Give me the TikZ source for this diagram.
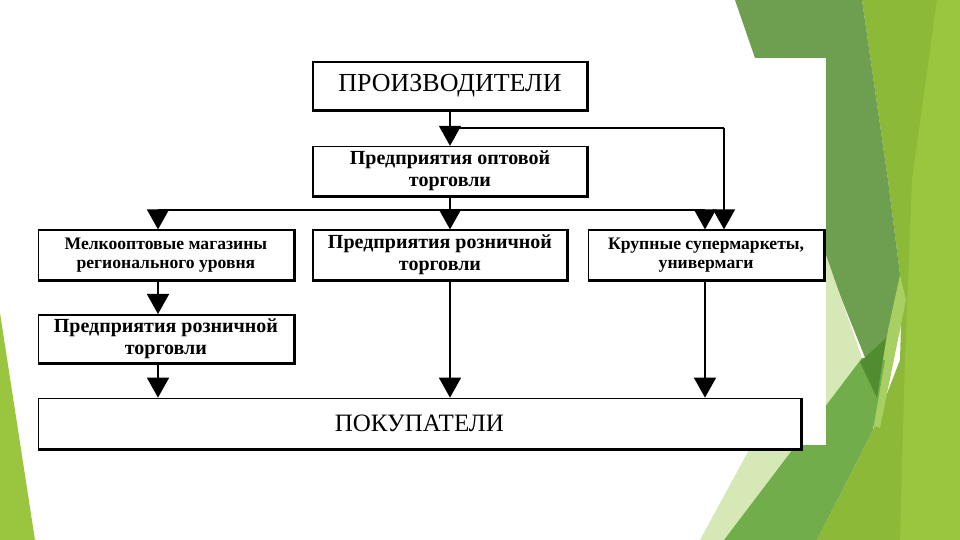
\documentclass[tikz,border=0pt]{standalone}
\usepackage{fontspec}
\setmainfont{Liberation Serif}
\usepackage{tikz}
\usetikzlibrary{arrows.meta,positioning}
\definecolor{leafmid}{RGB}{110,158,80}
\definecolor{leaflow}{RGB}{114,173,76}
\definecolor{leafdark}{RGB}{79,141,48}
\definecolor{leafyel}{RGB}{140,186,56}
\definecolor{leaflime}{RGB}{153,198,62}
\definecolor{leafpale}{RGB}{213,232,182}
\definecolor{leaflight}{RGB}{168,207,98}

\begin{document}
\begin{tikzpicture}[x=0.5pt,y=-0.5pt,
    box/.style={draw=black,fill=white,line width=0.8pt,inner sep=2pt,
                minimum height=25pt,align=center},
    headbox/.style={box,font=\fontsize{13}{14}\selectfont},
    midbox/.style={box,font=\bfseries\fontsize{10}{11}\selectfont},
    smallbox/.style={box,font=\bfseries\fontsize{8.8}{9.5}\selectfont},
    arr/.style={-{Triangle[width=11pt,length=10pt]},line width=0.8pt},
    link/.style={line width=0.8pt}
  ]
    \useasboundingbox (0,0) rectangle (960,540);
    \fill[white] (0,0) rectangle (960,540);

    % green slide decoration
    \fill[leafyel] (862,0) -- (960,0) -- (960,540) -- (817,540) -- (873,430)
      -- (900,360) -- (902,290) -- (888,180) -- cycle;
    \fill[leaflime] (937,0) -- (960,0) -- (960,540) -- (900,540) -- (905,360)
      -- (912,180) -- cycle;
    \fill[leafmid] (735,0) -- (862,0) -- (888,180) -- (902,290) -- (900,330)
      -- (880,395) -- (826,260) -- (755,58) -- cycle;
    \fill[leaflight] (900,275) -- (906,300) -- (880,428) -- (872,425)
      -- (888,330) -- cycle;
    \fill[leafpale] (826,255) -- (862,358) -- (724,540) -- (700,540)
      -- (756,437) -- (800,350) -- cycle;
    \fill[leaflow] (862,358) -- (885,360) -- (873,430) -- (817,540)
      -- (724,540) -- cycle;
    \fill[leafdark] (860,362) -- (886,338) -- (877,398) -- cycle;
    \fill[white] (25,58) rectangle (826,445);
    \fill[leaflime] (0,313) -- (35,540) -- (0,540) -- cycle;

    % boxes
    \node[headbox,minimum width=137pt,minimum height=24pt] (prod) at (450,86)
      {ПРОИЗВОДИТЕЛИ};
    \node[midbox,minimum width=137pt,minimum height=24.5pt,below=17.5pt of prod] (opt)
      {Предприятия оптовой\\торговли};
    \node[midbox,minimum width=127pt,below=16.5pt of opt,xshift=-5pt] (rozn)
      {Предприятия розничной\\торговли};
    \node[smallbox,minimum width=127.5pt,left=9pt of rozn] (melk)
      {Мелкооптовые магазины\\регионального уровня};
    \node[smallbox,minimum width=117.5pt,right=10pt of rozn] (krup)
      {Крупные супермаркеты,\\универмаги};
    \node[midbox,minimum width=127.5pt,minimum height=24pt,below=16.5pt of melk] (rozn2)
      {Предприятия розничной\\торговли};
    \node[headbox,font=\fontsize{12.5}{14}\selectfont,minimum width=381pt,
          below=17pt of rozn2.south west,anchor=north west] (pok)
      {ПОКУПАТЕЛИ};

    \foreach \n in {prod,opt,melk,rozn,krup,rozn2,pok}
      \draw[line width=1.5pt] (\n.north east) -- (\n.south east) -- (\n.south west);

    % connectors
    \coordinate (upR) at (724,128);
    \coordinate (busL) at (158,210);
    \coordinate (busR) at (705,210);

    \draw[arr] (prod) -- (opt);
    \draw[link] (prod.south |- upR) -- (upR);
    \draw[arr] (upR) -- (upR |- krup.north);
    \draw[arr] (opt) -- (opt.south |- rozn.north);
    \draw[link] (busL) -- (busR);
    \draw[arr] (busL) -- (busL |- melk.north);
    \draw[arr] (busR) -- (busR |- krup.north);
    \draw[arr] (busL |- melk.south) -- (busL |- rozn2.north);
    \draw[arr] (busL |- rozn2.south) -- (busL |- pok.north);
    \draw[arr] (opt.south |- rozn.south) -- (opt.south |- pok.north);
    \draw[arr] (busR |- krup.south) -- (busR |- pok.north);
\end{tikzpicture}
\end{document}
